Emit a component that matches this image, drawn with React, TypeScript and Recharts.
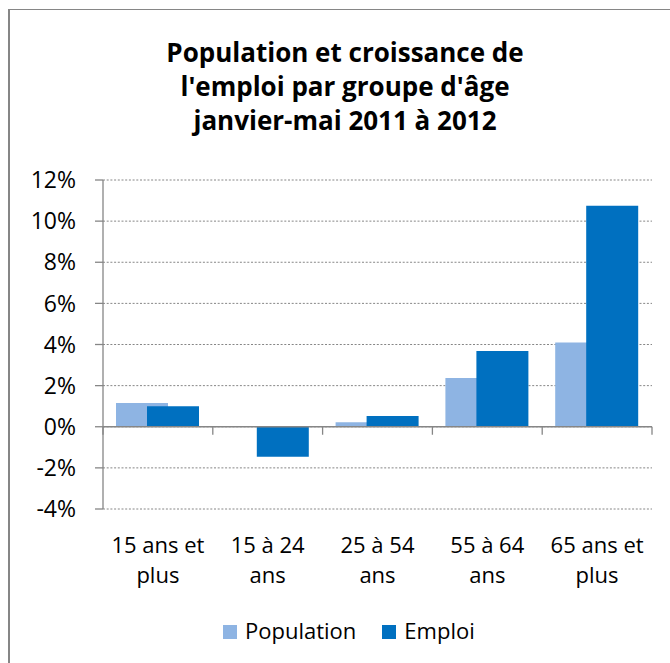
import React from "react";
import {
  BarChart,
  Bar,
  XAxis,
  YAxis,
  CartesianGrid,
  ReferenceLine,
  Legend,
} from "recharts";

const categories = [
  "15 ans et plus",
  "15 à 24 ans",
  "25 à 54 ans",
  "55 à 64 ans",
  "65 ans et plus",
];
const seriesNames = ["Population", "Emploi"];
const population = [1.15, 0.0, 0.22, 2.37, 4.1];
const emploi = [1.0, -1.46, 0.52, 3.68, 10.75];
const yTicks = [-4, -2, 0, 2, 4, 6, 8, 10, 12];
const titleLines = [
  "Population et croissance de",
  "l'emploi par groupe d'âge",
  "janvier-mai 2011 à 2012",
];

const data = categories.map((c, i) => ({
  name: c,
  Population: population[i],
  Emploi: emploi[i],
}));

const FONT = "'Open Sans', sans-serif";
const AXIS = "#868686";
const POP = "#8EB4E3";
const EMP = "#0070C0";

const XTick = (props: any) => {
  const { x, y, payload } = props;
  const words = String(payload.value).split(" ");
  const last = words.pop();
  const first = words.join(" ");
  return (
    <text
      x={x}
      y={y}
      textAnchor="middle"
      fill="#000"
      fontSize={22}
      fontFamily={FONT}
    >
      <tspan x={x} y={y + 44}>
        {first}
      </tspan>
      <tspan x={x} y={y + 74}>
        {last}
      </tspan>
    </text>
  );
};

const ZeroLine = (p: any) => {
  const { x1, x2, y1 } = p;
  const n = categories.length;
  const step = (x2 - x1) / n;
  const ticks = [];
  for (let k = 0; k <= n; k++) {
    const tx = x1 + k * step;
    ticks.push(
      <line key={k} x1={tx} x2={tx} y1={y1} y2={y1 + 8} stroke={AXIS} strokeWidth={1.3} />
    );
  }
  return (
    <g>
      <line x1={x1} x2={x2} y1={y1} y2={y1} stroke={AXIS} strokeWidth={1.3} />
      {ticks}
    </g>
  );
};

const LegendContent = (props: any) => {
  const payload = [...(props.payload || [])].sort(
    (a: any, b: any) => seriesNames.indexOf(a.value) - seriesNames.indexOf(b.value)
  );
  return (
    <div style={{ display: "flex", marginLeft: 223, height: 30, lineHeight: "30px" }}>
      {payload.map((e: any, i: number) => (
        <div key={i} style={{ display: "flex", alignItems: "flex-start", marginRight: 26 }}>
          <div style={{ width: 14, height: 14, background: e.color, marginTop: 10, marginRight: 8 }} />
          <span style={{ fontFamily: FONT, fontSize: 22, color: "#000" }}>{e.value}</span>
        </div>
      ))}
    </div>
  );
};

export default function App() {
  return (
    <div
      style={{
        position: "fixed",
        left: 0,
        top: 0,
        width: 670,
        height: 663,
        overflow: "hidden",
        background: "#fff",
      }}
    >
      <div
        style={{
          position: "absolute",
          left: 8,
          top: 9,
          width: 700,
          height: 700,
          borderTop: `1px solid ${AXIS}`,
          borderLeft: `2px solid ${AXIS}`,
        }}
      />
      <svg
        width={670}
        height={160}
        style={{ position: "absolute", left: 0, top: 0 }}
      >
        {titleLines.map((t, i) => (
          <text
            key={i}
            x={345}
            y={62 + i * 34}
            textAnchor="middle"
            fontFamily={FONT}
            fontWeight="bold"
            fontSize={26}
            fill="#000"
          >
            {t}
          </text>
        ))}
      </svg>
      <div style={{ position: "absolute", left: 0, top: 0 }}>
        <BarChart
          width={670}
          height={663}
          data={data}
          margin={{ top: 180, right: 18, bottom: 94, left: 0 }}
          barSize={52}
          barGap={-21}
        >
          <CartesianGrid
            vertical={false}
            stroke={AXIS}
            strokeDasharray="2 1.7"
          />
          <XAxis
            dataKey="name"
            height={60}
            axisLine={false}
            tickLine={false}
            tickSize={0}
            tickMargin={0}
            interval={0}
            tick={<XTick />}
          />
          <YAxis
            width={103}
            domain={[-4, 12]}
            ticks={yTicks}
            interval={0}
            tickFormatter={(v: number) => `${v}%`}
            axisLine={{ stroke: AXIS, strokeWidth: 1.3 }}
            tickLine={{ stroke: AXIS, strokeWidth: 1.3 }}
            tickSize={8}
            tickMargin={19}
            tick={{ fill: "#000", fontSize: 23, fontFamily: FONT }}
          />
          <Bar dataKey="Population" fill={POP} isAnimationActive={false} />
          <Bar dataKey="Emploi" fill={EMP} isAnimationActive={false} />
          <ReferenceLine y={0} shape={<ZeroLine />} />
          <Legend
            verticalAlign="middle"
            align="center"
            layout="horizontal"
            content={<LegendContent />}
            wrapperStyle={{ top: 615, left: 0, width: 670 }}
          />
        </BarChart>
      </div>
    </div>
  );
}
